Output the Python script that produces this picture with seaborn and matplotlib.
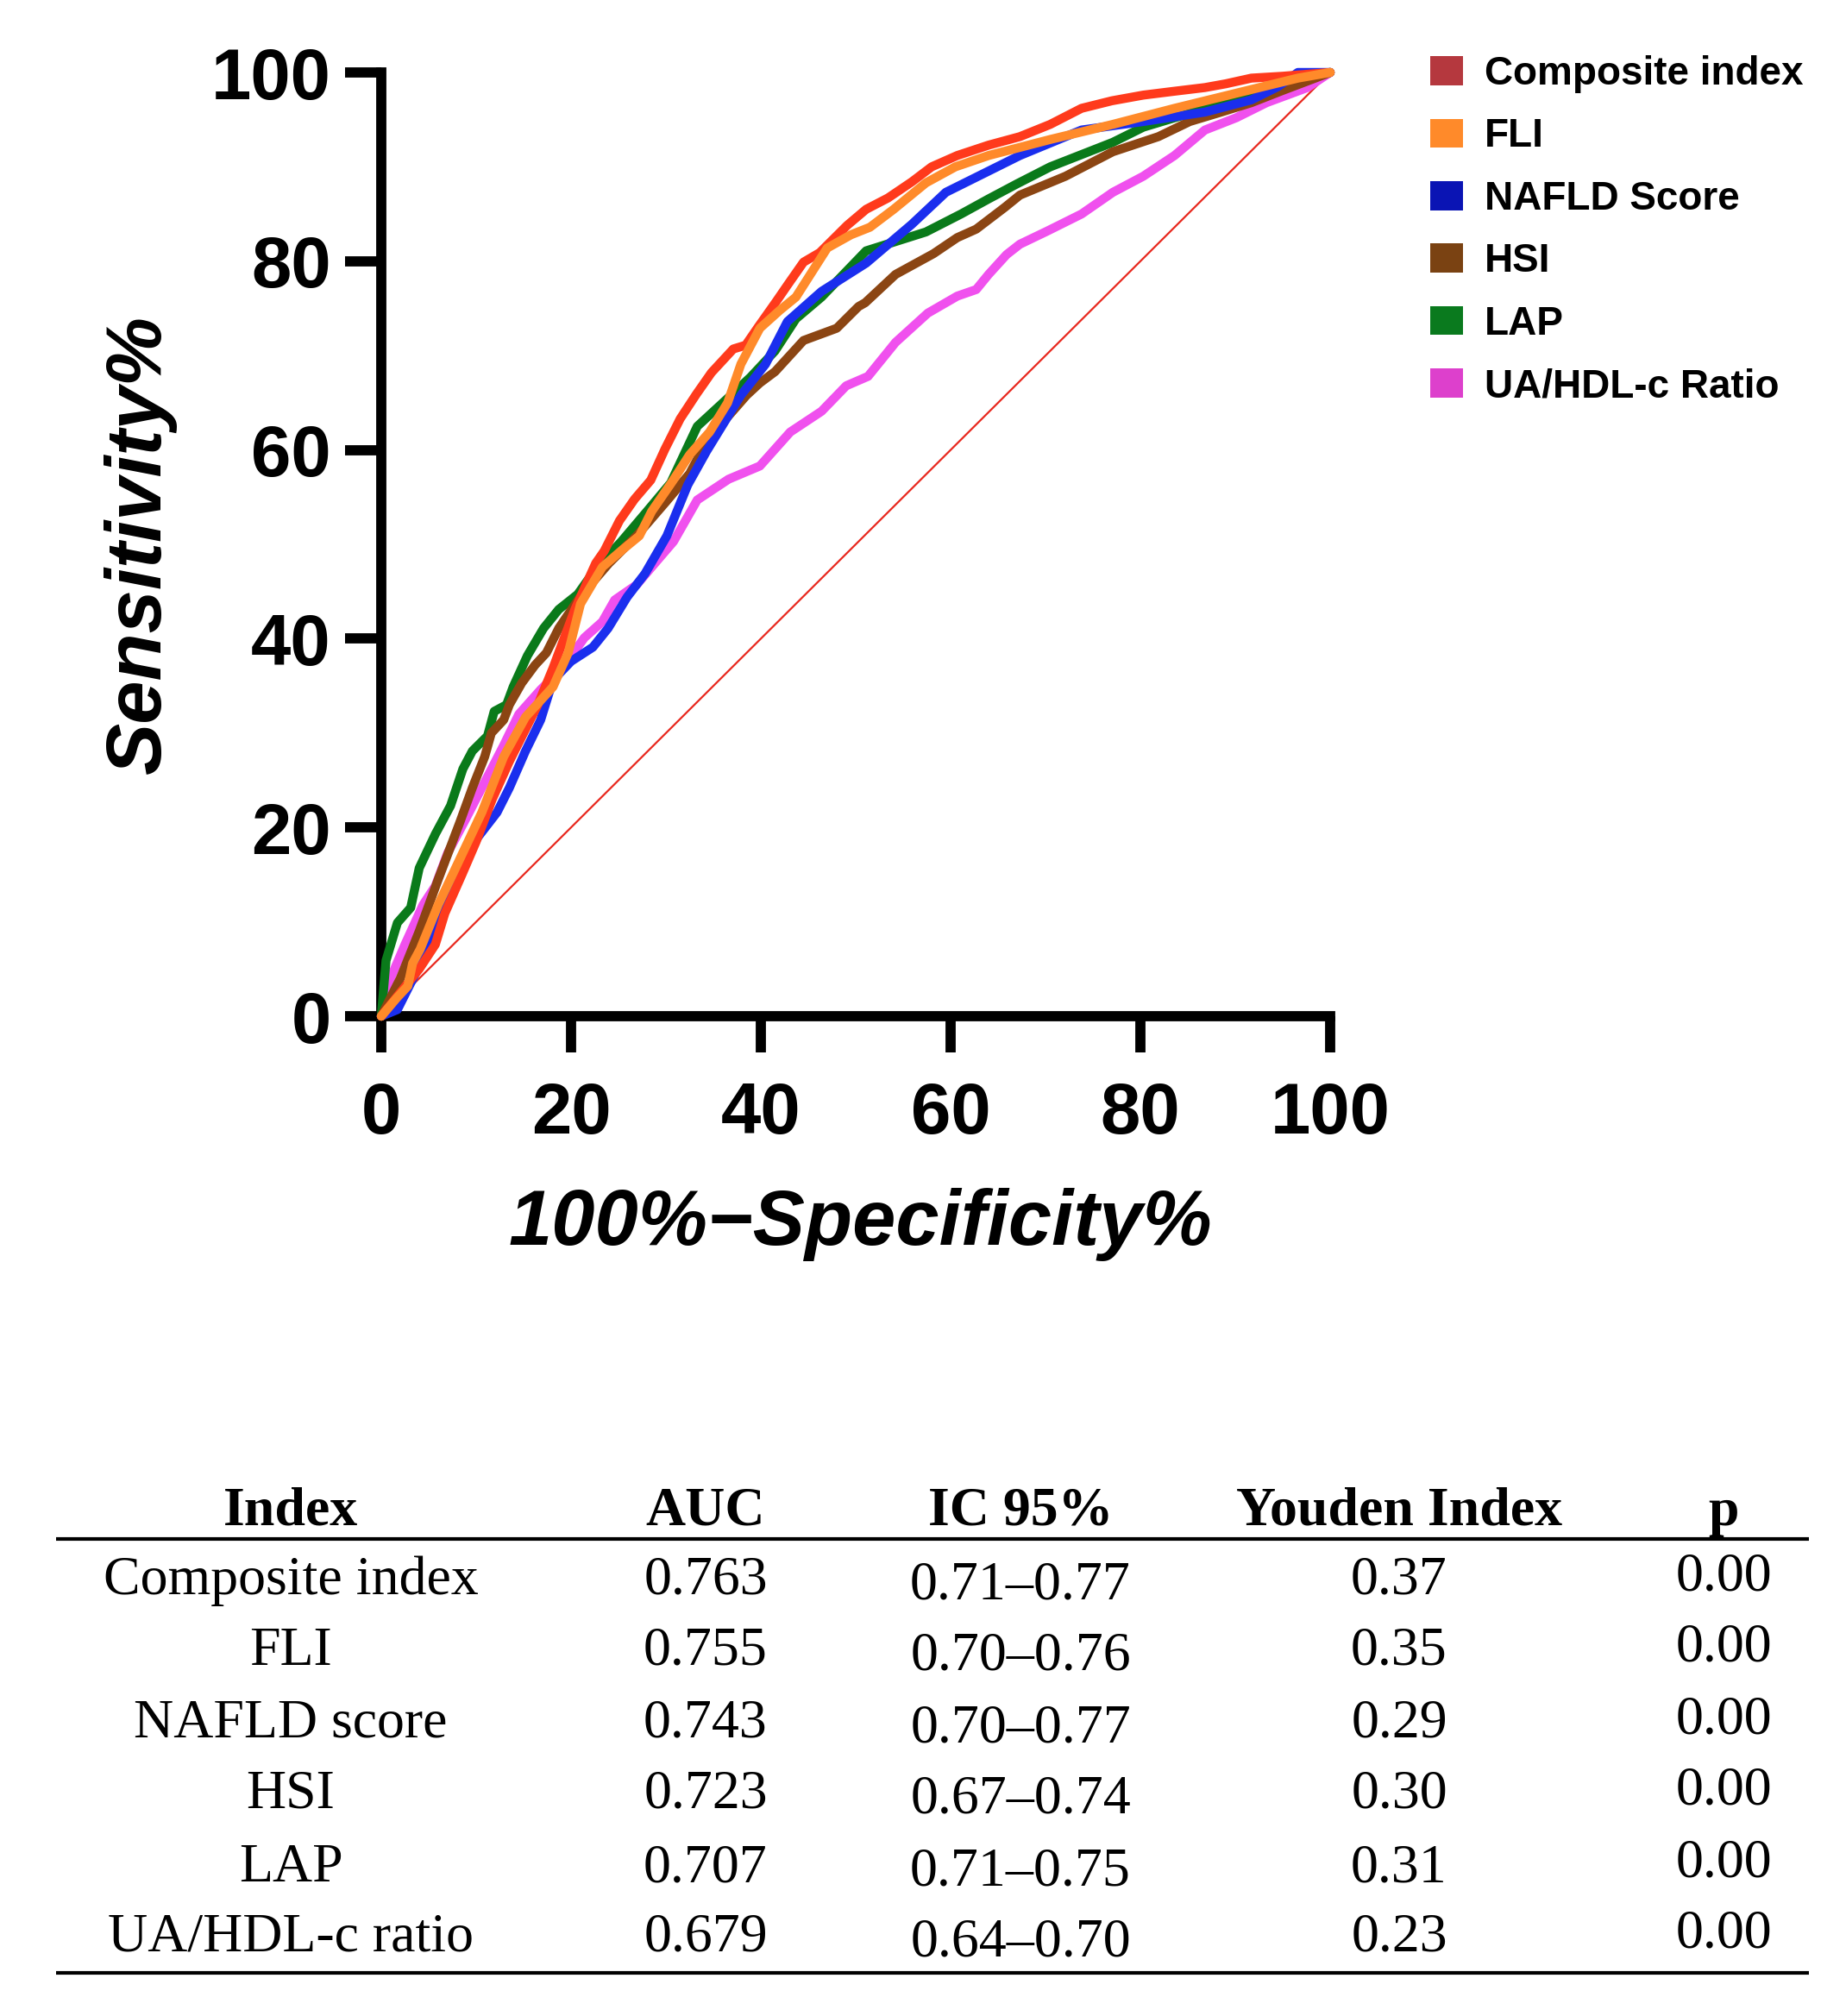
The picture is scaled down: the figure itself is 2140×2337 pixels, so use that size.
import pandas as pd
import matplotlib
matplotlib.use('Agg')
import matplotlib.pyplot as plt
import seaborn as sns
from matplotlib.patches import Patch

# ROC curves (x = 100% - specificity, y = sensitivity)
composite_x = [0, 2, 4, 5.7, 6.7, 8.5, 10, 11.7, 13.5, 15, 16.5, 18.1, 20.4, 22.6, 23.5, 25.1,
               26.7, 28.4, 29.9, 31.5, 33.2, 34.8, 37.1, 38.4, 39.7, 41.6, 42.9, 44.5, 46.2,
               49.1, 51.1, 53.4, 55.9, 58.0, 60.7, 64.0, 67.3, 70.5, 73.8, 77.0, 80.3, 83.5,
               86.8, 89.0, 91.7, 95.0, 100]
composite_y = [0, 2.5, 5.0, 7.6, 10.9, 15.0, 18.5, 23.0, 27.0, 30.0, 33.0, 36.9, 43.1, 48.0, 49.3,
               52.5, 54.8, 56.8, 60.1, 63.3, 65.9, 68.2, 70.7, 71.1, 73.0, 75.7, 77.6, 79.9, 80.9,
               83.8, 85.5, 86.7, 88.4, 90.0, 91.2, 92.3, 93.2, 94.5, 96.2, 97.0, 97.6, 98.0,
               98.4, 98.8, 99.4, 99.6, 100]

fli_x = [0, 1.6, 2.8, 3.3, 4.1, 6.0, 8.3, 10.6, 12.9, 15.2, 18.1, 19.7, 21.0, 23.3, 25.5, 27.2,
         28.5, 30.7, 32.5, 34.6, 36.5, 37.9, 39.9, 42.0, 43.7, 47.0, 49.5, 51.5, 54.0, 57.4,
         60.5, 64.0, 70.5, 77.1, 83.6, 90.1, 96.6, 100]
fli_y = [0, 1.9, 3.2, 5.6, 7.1, 11.8, 16.7, 21.6, 27.5, 31.7, 34.9, 38.5, 43.7, 47.6, 49.5, 50.9,
         53.5, 56.7, 59.5, 61.9, 65.0, 69.1, 72.9, 74.8, 76.2, 81.4, 82.8, 83.6, 85.5, 88.3,
         90.0, 91.2, 92.9, 94.5, 96.2, 97.8, 99.4, 100]

nafld_x = [0, 1.7, 4.0, 6.3, 7.9, 10.2, 12.2, 13.5, 15.2, 16.8, 18.1, 20.0, 22.3, 23.9, 25.9,
           27.8, 30.1, 32.3, 34.3, 37.9, 40.5, 42.8, 46.4, 51.1, 55.9, 59.5, 62.7, 67.3, 73.8,
           80.3, 86.8, 91.7, 94.5, 96.6, 100]
nafld_y = [0, 0.7, 5.3, 10.4, 15.0, 19.0, 21.6, 24.2, 28.1, 31.4, 35.6, 37.6, 39.1, 41.1, 44.4,
           46.9, 50.9, 56.3, 59.9, 65.8, 69.1, 73.6, 76.8, 79.8, 83.9, 87.3, 88.9, 91.2, 93.9,
           94.8, 95.8, 97.1, 98.5, 100, 100]

hsi_x = [0, 2, 4, 6, 8.3, 9.6, 10.9, 11.6, 12.9, 13.5, 14.8, 16.2, 17.4, 18.7, 21, 24, 27, 30,
         32.5, 34.3, 36.5, 38.5, 39.9, 41.5, 44.5, 48, 50.3, 51, 54.2, 58.2, 60.7, 62.7, 65.7,
         67.3, 72.1, 77.1, 81.9, 85.2, 88.5, 91.7, 95, 100]
hsi_y = [0, 4, 9, 14.5, 20.6, 24.2, 27.5, 30, 31.4, 33, 35.3, 37.2, 38.5, 41.1, 44.5, 48, 51,
         54.5, 57.5, 60.9, 63.5, 65.8, 67.1, 68.3, 71.6, 72.9, 75.2, 75.6, 78.6, 80.8, 82.5,
         83.4, 85.7, 87, 89, 91.6, 93.2, 94.8, 95.8, 96.8, 98.1, 100]

lap_x = [0, 0.5, 1.7, 3.1, 4.0, 5.7, 7.3, 8.6, 9.6, 11.2, 11.9, 13.2, 13.9, 15.4, 17.1, 18.7,
         20.7, 22.6, 25.3, 28.0, 30.5, 33.3, 36.0, 38.9, 41.5, 43.7, 46.4, 51.1, 57.4, 61.1,
         64.0, 67.0, 70.5, 77.1, 80.3, 83.6, 90.1, 96.6, 100]
lap_y = [0, 5.9, 9.9, 11.5, 15.7, 19.3, 22.3, 26.2, 28.1, 29.7, 32.3, 33.0, 34.9, 38.2, 41.1,
         43.1, 44.7, 47.4, 50.3, 53.5, 56.5, 62.5, 65.0, 67.7, 70.5, 73.9, 76.2, 81.1, 83.1,
         85.0, 86.6, 88.2, 90.0, 92.6, 94.2, 95.2, 97.1, 99.4, 100]

ua_x = [0, 0.8, 2.5, 4.4, 5.7, 7.0, 8.9, 10.9, 12.9, 14.5, 16.8, 19.1, 21.4, 23.3, 24.6, 26.9,
        28.5, 30.8, 33.3, 36.6, 39.9, 43.1, 46.4, 49.0, 51.3, 54.2, 57.6, 60.7, 62.7, 64.0,
        65.9, 67.3, 70.2, 73.8, 77.1, 80.3, 83.6, 86.8, 90.1, 93.3, 97.6, 100]
ua_y = [0, 3.6, 7.6, 11.8, 13.8, 17.3, 20.9, 24.8, 28.7, 32.0, 34.6, 36.9, 40.1, 41.8, 44.1,
        45.7, 47.6, 50.3, 54.7, 56.9, 58.3, 61.9, 64.1, 66.8, 67.8, 71.4, 74.5, 76.3, 77.0,
        78.6, 80.7, 81.8, 83.2, 85.0, 87.3, 89.0, 91.2, 93.9, 95.2, 96.8, 98.4, 100]

# chance line
ref_x = [0, 100]
ref_y = [0, 100]

legend_labels = ['Composite index', 'FLI', 'NAFLD Score', 'HSI', 'LAP', 'UA/HDL-c Ratio']
legend_colors = ['#B5383E', '#FF8A2A', '#0A14B4', '#7A4212', '#0A7A1E', '#DD40CC']

# table
index_names = ['Composite index', 'FLI', 'NAFLD score', 'HSI', 'LAP', 'UA/HDL-c ratio']
auc_vals = ['0.763', '0.755', '0.743', '0.723', '0.707', '0.679']
ic95_vals = ['0.71\u20130.77', '0.70\u20130.76', '0.70\u20130.77', '0.67\u20130.74',
             '0.71\u20130.75', '0.64\u20130.70']
youden_vals = ['0.37', '0.35', '0.29', '0.30', '0.31', '0.23']
p_vals = ['0.00', '0.00', '0.00', '0.00', '0.00', '0.00']
table_header = ['Index', 'AUC', 'IC 95%', 'Youden Index', 'p']

# long table for seaborn, drawing order = bottom to top
curves = [('UA/HDL-c Ratio', ua_x, ua_y, '#F050EE'),
          ('LAP', lap_x, lap_y, '#0A7A1A'),
          ('HSI', hsi_x, hsi_y, '#8B4513'),
          ('NAFLD Score', nafld_x, nafld_y, '#1A2EEE'),
          ('Composite index', composite_x, composite_y, '#FF3A1C'),
          ('FLI', fli_x, fli_y, '#FF8A2A')]
frames = []
for name, xs, ys, _ in curves:
    frames.append(pd.DataFrame({'fpr': xs, 'tpr': ys, 'index': name}))
df = pd.concat(frames, ignore_index=True)
palette = {name: col for name, _, _, col in curves}

sns.set_style('ticks')
plt.rcParams['font.family'] = ['Liberation Sans', 'DejaVu Sans']
plt.rcParams['text.color'] = 'black'
plt.rcParams['axes.labelcolor'] = 'black'
plt.rcParams['xtick.color'] = 'black'
plt.rcParams['ytick.color'] = 'black'

W, H = 2140, 2337
fig = plt.figure(figsize=(W / 100, H / 100), dpi=100)
ax = fig.add_axes([442 / W, 1 - 1178 / H, 1100 / W, 1094 / H])

ax.plot(ref_x, ref_y, color='#E8281E', lw=1.6, zorder=1)
sns.lineplot(data=df, x='fpr', y='tpr', hue='index', hue_order=[c[0] for c in curves],
             palette=palette, sort=False, estimator=None, lw=7.5, legend=False, ax=ax,
             clip_on=False, zorder=3)

ax.set_xlim(0, 100)
ax.set_ylim(0, 100)
ax.set_xticks([0, 20, 40, 60, 80, 100])
ax.set_yticks([0, 20, 40, 60, 80, 100])
sns.despine(ax=ax)
for s in ['left', 'bottom']:
    ax.spines[s].set_linewidth(8.5)
    ax.spines[s].set_color('black')
ax.tick_params(axis='both', length=30, width=8.5, color='black', labelcolor='black',
               labelsize=60)
ax.tick_params(axis='x', pad=24)
ax.tick_params(axis='y', pad=12)
for lab in ax.get_xticklabels() + ax.get_yticklabels():
    lab.set_fontweight('bold')

ax.set_xlabel('100%\u2212Specificity%', fontsize=65, fontweight='bold', style='italic')
ax.set_ylabel('Sensitivity%', fontsize=65, fontweight='bold', style='italic')
ax.xaxis.set_label_coords(0.5045, -0.182)
ax.yaxis.set_label_coords(-0.216, 0.5)

handles = [Patch(facecolor=c, edgecolor='none') for c in legend_colors]
ax.legend(handles, legend_labels, loc='upper left',
          bbox_to_anchor=(1658 / W, 1 - 64 / H), bbox_transform=fig.transFigure,
          frameon=False, prop={'weight': 'bold', 'size': 33},
          handlelength=0.82, handleheight=0.75, handletextpad=0.55,
          labelspacing=0.62, borderpad=0, borderaxespad=0)

# table below the chart, in pixel coordinates
tab = fig.add_axes([0, 0, 1, 1], zorder=-1)
tab.set_xlim(0, W)
tab.set_ylim(H, 0)
tab.axis('off')

col_x = [337, 818, 1183, 1622, 1998]
col_dy = [0, 0, 5, 0, -5]
header_y = 1768
row_y = [1848, 1930, 2014, 2096, 2181, 2262]
serif = ['Liberation Serif', 'DejaVu Serif']

for cx, txt in zip(col_x, table_header):
    tab.text(cx, header_y, txt, ha='center', va='baseline', fontsize=46,
             fontweight='bold', family=serif)
columns = [index_names, auc_vals, ic95_vals, youden_vals, p_vals]
for cx, dy, col in zip(col_x, col_dy, columns):
    for ry, txt in zip(row_y, col):
        tab.text(cx, ry + dy, txt, ha='center', va='baseline', fontsize=46, family=serif)

tab.hlines([1784, 2287], 65, 2097, color='black', lw=3)

fig.savefig('out.png', dpi=100)
